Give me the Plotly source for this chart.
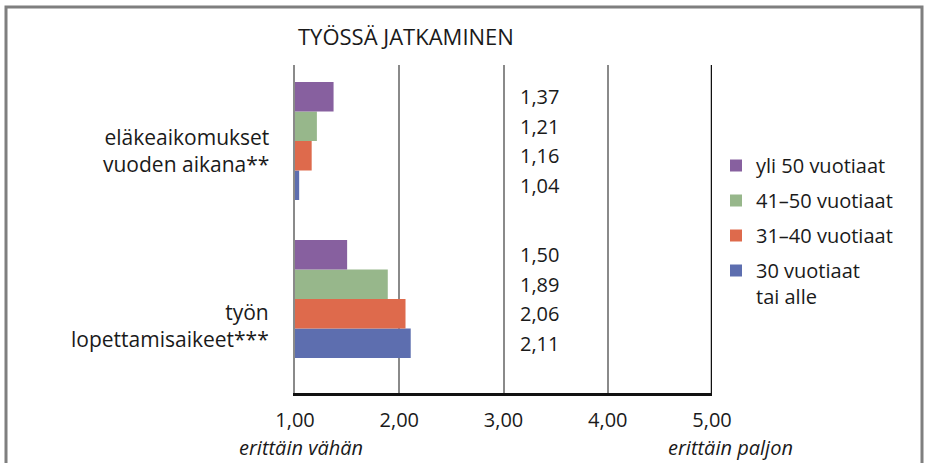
import plotly.graph_objects as go

categories = ["työn<br>lopettamisaikeet***", "eläkeaikomukset<br>vuoden aikana**"]
series_names = ["30 vuotiaat<br>tai alle", "31–40 vuotiaat", "41–50 vuotiaat", "yli 50 vuotiaat"]
series_colors = ["#5D6EAF", "#DE6A4C", "#97B78B", "#87609F"]
# values per series, in category order [työn lopettamisaikeet, eläkeaikomukset]
v_30 = [2.11, 1.04]
v_31_40 = [2.06, 1.16]
v_41_50 = [1.89, 1.21]
v_yli50 = [1.50, 1.37]
series_values = [v_30, v_31_40, v_41_50, v_yli50]
x_tickvals = [1, 2, 3, 4, 5]
x_end_labels = ["erittäin vähän", "erittäin paljon"]
title_text = "TYÖSSÄ JATKAMINEN"

FONT = "Open Sans"
FS = 20
TXT = "#1a1a1a"
BARGAP = 0.253

fig = go.Figure()
nser = len(series_names)
for k, (name, vals, col) in enumerate(zip(series_names, series_values, series_colors)):
    fig.add_trace(go.Bar(
        y=list(range(len(categories))), x=[v - 1 for v in vals], base=1,
        orientation="h", name=name, legendgroup=f"g{k}",
        legendrank=100 * (nser - k),
        marker=dict(color=col, line=dict(width=0)),
        hoverinfo="skip",
    ))

W, H = 927, 463
L, R, T, B = 295, 215, 65, 70
pw, ph = W - L - R, H - T - B

def px_to_paper_x(px):
    return (px - L) / pw

def px_to_paper_y(py):
    return (H - B - py) / ph

annotations = []
# value labels aligned with bar centres
n = len(series_values)
slot = (1 - BARGAP) / n
for i, vals in enumerate(series_values):
    for ci, v in enumerate(vals):
        yc = ci - (1 - BARGAP) / 2 + slot * (i + 0.5)
        annotations.append(dict(
            x=3.35, y=yc, xref="x", yref="y", text=f"{v:.2f}".replace(".", ","),
            showarrow=False, font=dict(family=FONT, size=FS, color=TXT),
            xanchor="center", yanchor="middle"))

# category labels
cat_label_py = [325, 150]
for cat, py in zip(categories, cat_label_py):
    annotations.append(dict(
        x=px_to_paper_x(271), y=px_to_paper_y(py), xref="paper", yref="paper",
        text=cat, showarrow=False, align="right", xanchor="right", yanchor="middle",
        font=dict(family=FONT, size=FS + 1, color=TXT)))

# end labels under axis
for txt, pxc in zip(x_end_labels, [301, 730]):
    annotations.append(dict(
        x=px_to_paper_x(pxc), y=px_to_paper_y(447), xref="paper", yref="paper",
        text=f"<i>{txt}</i>", showarrow=False, xanchor="center", yanchor="middle",
        font=dict(family=FONT, size=FS, color=TXT)))

# title
annotations.append(dict(
    x=px_to_paper_x(296), y=px_to_paper_y(36), xref="paper", yref="paper",
    text=title_text, showarrow=False, xanchor="left", yanchor="middle",
    font=dict(family=FONT, size=FS + 2, color=TXT)))

shapes = [
    # right plot edge
    dict(type="line", xref="x", yref="paper", x0=5, x1=5, y0=0, y1=1,
         line=dict(color="#111111", width=2.5)),
    # outer frame
    dict(type="rect", xref="paper", yref="paper",
         x0=px_to_paper_x(6), x1=px_to_paper_x(922),
         y0=px_to_paper_y(480), y1=px_to_paper_y(7),
         line=dict(color="#7f7f7f", width=3)),
]

fig.update_layout(
    width=W, height=H,
    margin=dict(l=L, r=R, t=T, b=B, autoexpand=False),
    paper_bgcolor="white", plot_bgcolor="white",
    barmode="group", bargap=BARGAP,
    separators=", ",
    showlegend=True,
    legend=dict(
        x=px_to_paper_x(716), y=px_to_paper_y(146), xanchor="left", yanchor="top",
        traceorder="grouped", valign="top", tracegroupgap=6,
        font=dict(family=FONT, size=FS, color=TXT), itemwidth=30,
        bgcolor="rgba(0,0,0,0)"),
    xaxis=dict(
        range=[1, 5], tickvals=x_tickvals, tickformat=".2f",
        showgrid=True, gridcolor="#8a8a8a", gridwidth=1.5,
        showline=True, linecolor="#111111", linewidth=2.5,
        zeroline=False, ticks="", ticklabelstandoff=7,
        tickfont=dict(family=FONT, size=FS, color=TXT), fixedrange=True),
    yaxis=dict(
        range=[-0.595, 1.481], showticklabels=False, showgrid=False,
        showline=True, linecolor="#8a8a8a", linewidth=1.5, zeroline=False,
        fixedrange=True),
    annotations=annotations, shapes=shapes,
    font=dict(family=FONT, size=FS, color=TXT),
)

fig.write_html("out.html", config={"displayModeBar": False},
               post_script="document.body.style.margin='0';document.body.style.overflow='hidden';")
